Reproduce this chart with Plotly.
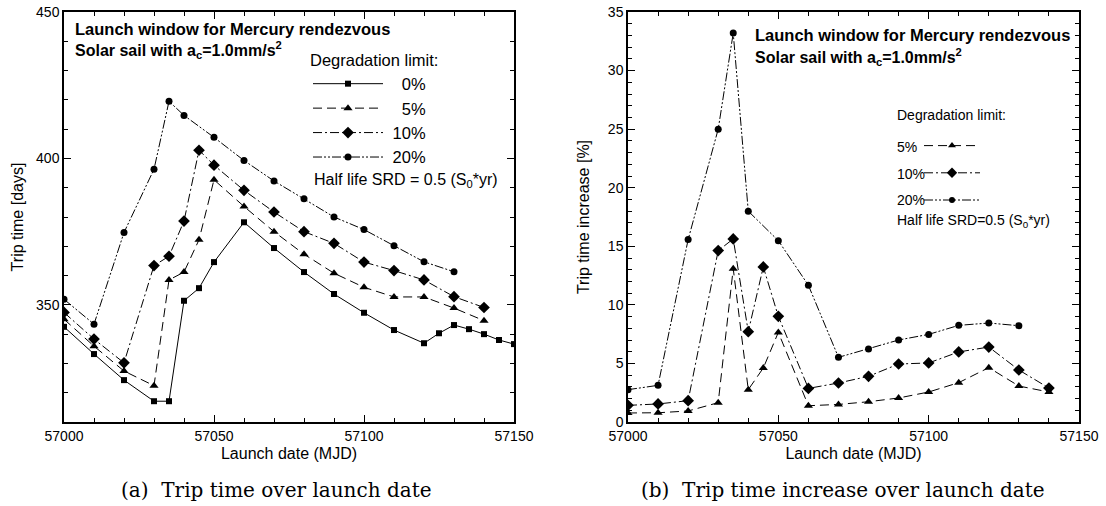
import plotly.graph_objects as go

W, H = 1106, 506

# ---------------- data ----------------
# (a) trip time [days] vs launch date (MJD)
d0 = [57000, 57010, 57020, 57030, 57035, 57040, 57045, 57050, 57060, 57070, 57080,
      57090, 57100, 57110, 57120, 57125, 57130, 57135, 57140, 57145, 57150]
t0 = [342.5, 333.2, 324.3, 317.1, 317.1, 351.4, 355.7, 364.6, 378.2, 369.4, 361.2,
      353.7, 347.3, 341.4, 336.9, 340.3, 343.1, 341.7, 340.0, 338.0, 336.6]

d5 = [57000, 57010, 57020, 57030, 57035, 57040, 57045, 57050, 57060, 57070, 57080,
      57090, 57100, 57110, 57120, 57130, 57140]
t5 = [345.1, 335.9, 327.4, 322.4, 358.5, 361.2, 372.2, 392.7, 383.6, 375.0, 367.3,
      360.8, 356.0, 352.7, 352.7, 348.9, 344.6]

d10 = [57000, 57010, 57020, 57030, 57035, 57040, 57045, 57050, 57060, 57070, 57080,
       57090, 57100, 57110, 57120, 57130, 57140]
t10 = [347.4, 338.3, 330.2, 363.4, 366.6, 378.6, 402.8, 397.7, 389.1, 381.7, 375.0,
       371.0, 364.6, 361.7, 358.5, 352.8, 349.1]

d20 = [57000, 57010, 57020, 57030, 57035, 57040, 57050, 57060, 57070, 57080, 57090,
       57100, 57110, 57120, 57130]
t20 = [351.9, 343.4, 374.7, 396.3, 419.5, 414.7, 407.2, 399.3, 392.3, 386.2, 380.0,
       375.7, 370.2, 364.7, 361.3]

# (b) trip time increase [%] vs launch date (MJD)
db5 = [57000, 57010, 57020, 57030, 57035, 57040, 57045, 57050, 57060, 57070, 57080,
       57090, 57100, 57110, 57120, 57130, 57140]
i5 = [0.77, 0.79, 0.94, 1.65, 13.09, 2.76, 4.61, 7.65, 1.39, 1.50, 1.73,
      2.05, 2.56, 3.36, 4.64, 3.07, 2.56]

db10 = [57000, 57010, 57020, 57030, 57035, 57040, 57045, 57050, 57060, 57070, 57080,
        57090, 57100, 57110, 57120, 57130, 57140]
i10 = [1.42, 1.54, 1.82, 14.63, 15.63, 7.71, 13.24, 9.02, 2.87, 3.33, 3.90,
       4.95, 5.04, 5.98, 6.40, 4.44, 2.90]

db20 = [57000, 57010, 57020, 57030, 57035, 57040, 57050, 57060, 57070, 57080, 57090,
        57100, 57110, 57120, 57130]
i20 = [2.76, 3.13, 15.57, 25.0, 33.2, 18.0, 15.48, 11.67, 5.52, 6.23, 7.0,
       7.48, 8.25, 8.45, 8.22]

labels_a = ["0%", "5%", "10%", "20%"]
labels_b = ["5%", "10%", "20%"]

# ---------------- helpers ----------------
def px(x):
    return x / W

def py(y):
    return 1 - y / H

SANS = "Liberation Sans, Arial, sans-serif"
SERIF = "DejaVu Serif, serif"
NB = "\u00a0"

dash5 = "9px,5px"
dash10 = "9px,3px,2px,3px"
dash20 = "9px,2px,2px,2px,2px,2px"

styles = {
    "0%": dict(dash="solid", symbol="square", size=6),
    "5%": dict(dash=dash5, symbol="triangle-up", size=8),
    "10%": dict(dash=dash10, symbol="diamond", size=9),
    "20%": dict(dash=dash20, symbol="circle", size=7),
}

# right-align legend labels of panel (a) (digit = two no-break spaces)
def padded(lab):
    return NB * (2 * (3 - len(lab)) + 1) + lab

fig = go.Figure()

for lab, xs, ys in zip(labels_a, [d0, d5, d10, d20], [t0, t5, t10, t20]):
    st = styles[lab]
    fig.add_trace(go.Scatter(
        x=xs, y=ys, name=padded(lab), mode="lines+markers", xaxis="x", yaxis="y",
        line=dict(color="black", width=1, dash=st["dash"]),
        marker=dict(color="black", symbol=st["symbol"], size=st["size"]),
        legend="legend", legendgroup="a" + lab,
    ))

for lab, xs, ys in zip(labels_b, [db5, db10, db20], [i5, i10, i20]):
    st = styles[lab]
    fig.add_trace(go.Scatter(
        x=xs, y=ys, name=lab, mode="lines+markers", xaxis="x2", yaxis="y2",
        line=dict(color="black", width=1, dash=st["dash"]),
        marker=dict(color="black", symbol=st["symbol"], size=st["size"]),
        showlegend=False,
    ))
    # legend sample for panel (b) (its label is drawn to the left as text)
    fig.add_trace(go.Scatter(
        x=[None], y=[None], name="", mode="lines+markers", xaxis="x2", yaxis="y2",
        line=dict(color="black", width=1, dash=st["dash"]),
        marker=dict(color="black", symbol=st["symbol"], size=st["size"] - 1),
        legend="legend2", legendgroup="b" + lab,
    ))

axis_common = dict(
    showline=True, linecolor="black", linewidth=1.5, mirror="ticks",
    ticks="inside", ticklen=7, tickwidth=1, tickcolor="black",
    showgrid=False, zeroline=False, automargin=False,
    tickfont=dict(family=SANS, size=14, color="black"),
)
minor_common = dict(ticks="inside", ticklen=4, tickwidth=1, tickcolor="black")
title_font = dict(family=SANS, size=16, color="black")

xdom1 = [px(64), px(514)]
xdom2 = [px(628), px(1079)]
ydom = [py(422), py(12)]

fig.update_layout(
    width=W, height=H,
    margin=dict(l=0, r=0, t=0, b=0),
    paper_bgcolor="white", plot_bgcolor="white",
    font=dict(family=SANS, color="black"),
    xaxis=dict(**axis_common, domain=xdom1, anchor="y", range=[57000, 57150],
               tick0=57000, dtick=50, tickformat="d",
               minor=dict(**minor_common, dtick=10),
               title=dict(text="Launch date (MJD)", font=title_font, standoff=5)),
    yaxis=dict(**axis_common, domain=ydom, anchor="x", range=[310, 450],
               tick0=350, dtick=50,
               minor=dict(**minor_common, tick0=310, dtick=10),
               title=dict(text="Trip time [days]", font=title_font, standoff=8)),
    xaxis2=dict(**axis_common, domain=xdom2, anchor="y2", range=[57000, 57150],
                tick0=57000, dtick=50, tickformat="d",
                minor=dict(**minor_common, dtick=10),
                title=dict(text="Launch date (MJD)", font=title_font, standoff=5)),
    yaxis2=dict(**axis_common, domain=ydom, anchor="x2", range=[0, 35],
                tick0=0, dtick=5,
                minor=dict(**minor_common, dtick=1),
                title=dict(text="Trip time increase [%]", font=title_font, standoff=14)),
    legend=dict(
        x=px(308), y=py(45), xanchor="left", yanchor="top",
        bgcolor="rgba(0,0,0,0)", borderwidth=0,
        font=dict(family=SANS, size=16.5, color="black"),
        title=dict(text="Degradation limit:", font=dict(family=SANS, size=16.5)),
        itemwidth=70, tracegroupgap=3, traceorder="normal",
    ),
    legend2=dict(
        x=px(919), y=py(130), xanchor="left", yanchor="top",
        bgcolor="rgba(0,0,0,0)", borderwidth=0,
        font=dict(family=SANS, size=14, color="black"),
        itemwidth=56, tracegroupgap=6, traceorder="grouped",
    ),
)

ann = []
# panel titles
for x0, y1, y2 in [(73, 29, 50), (753, 35, 57)]:
    ann.append(dict(x=px(x0), y=py(y1), xref="paper", yref="paper", xanchor="left", yanchor="middle",
                    showarrow=False, text="<b>Launch window for Mercury rendezvous</b>",
                    font=dict(family=SANS, size=16.5, color="black")))
    ann.append(dict(x=px(x0), y=py(y2), xref="paper", yref="paper", xanchor="left", yanchor="middle",
                    showarrow=False, text="<b>Solar sail with a<sub>c</sub>=1.0mm/s<sup>2</sup></b>",
                    font=dict(family=SANS, size=16, color="black")))
# notes
ann.append(dict(x=px(312), y=py(181), xref="paper", yref="paper", xanchor="left", yanchor="middle",
                showarrow=False, text="Half life SRD = 0.5 (S<sub>0</sub>*yr)",
                font=dict(family=SANS, size=16, color="black")))
ann.append(dict(x=px(895), y=py(115), xref="paper", yref="paper", xanchor="left", yanchor="middle",
                showarrow=False, text="Degradation limit:",
                font=dict(family=SANS, size=14, color="black")))
for lab, yy in zip(labels_b, [147, 174, 200]):
    ann.append(dict(x=px(895), y=py(yy), xref="paper", yref="paper", xanchor="left", yanchor="middle",
                    showarrow=False, text=lab, font=dict(family=SANS, size=14, color="black")))
ann.append(dict(x=px(895), y=py(221), xref="paper", yref="paper", xanchor="left", yanchor="middle",
                showarrow=False, text="Half life SRD=0.5 (S<sub>0</sub>*yr)",
                font=dict(family=SANS, size=14, color="black")))
# captions
ann.append(dict(x=px(276), y=py(490), xref="paper", yref="paper", xanchor="center", yanchor="middle",
                showarrow=False, text="(a)  Trip time over launch date",
                font=dict(family=SERIF, size=20, color="black")))
ann.append(dict(x=px(843), y=py(490), xref="paper", yref="paper", xanchor="center", yanchor="middle",
                showarrow=False, text="(b)  Trip time increase over launch date",
                font=dict(family=SERIF, size=20, color="black")))
fig.update_layout(annotations=ann)

fig.write_html("out.html")
